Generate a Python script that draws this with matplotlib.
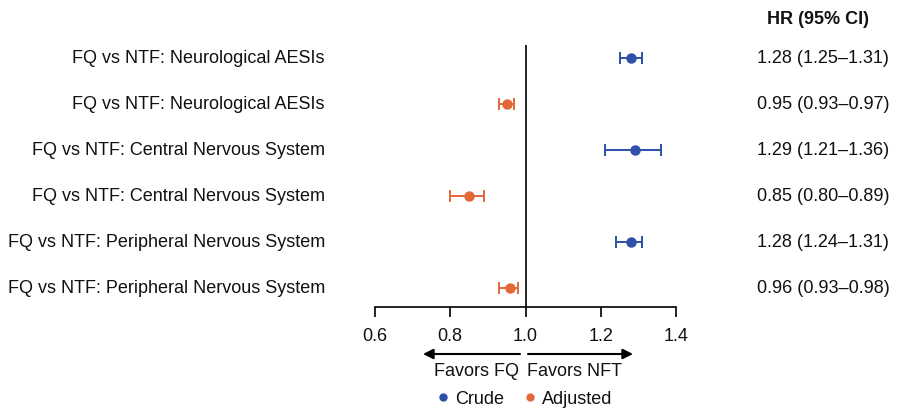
import matplotlib
matplotlib.use("Agg")
import matplotlib.pyplot as plt
from matplotlib.lines import Line2D

plt.rcParams['font.family'] = ['Liberation Sans', 'DejaVu Sans']

labels = ["FQ vs NTF: Neurological AESIs", "FQ vs NTF: Neurological AESIs",
          "FQ vs NTF: Central Nervous System", "FQ vs NTF: Central Nervous System",
          "FQ vs NTF: Peripheral Nervous System", "FQ vs NTF: Peripheral Nervous System"]
hr = [1.28, 0.95, 1.29, 0.85, 1.28, 0.96]
lo = [1.25, 0.93, 1.21, 0.80, 1.24, 0.93]
hi = [1.31, 0.97, 1.36, 0.89, 1.31, 0.98]
model = ["Crude", "Adjusted", "Crude", "Adjusted", "Crude", "Adjusted"]
ci_text = ["1.28 (1.25\u20131.31)", "0.95 (0.93\u20130.97)", "1.29 (1.21\u20131.36)",
           "0.85 (0.80\u20130.89)", "1.28 (1.24\u20131.31)", "0.96 (0.93\u20130.98)"]
xticks = [0.6, 0.8, 1.0, 1.2, 1.4]
colors = {"Crude": "#2F4FA8", "Adjusted": "#E2683A"}

FS = 13
TXT = "#111111"
W, H = 903, 408
fig = plt.figure(figsize=(W / 100, H / 100), dpi=100)
ax = fig.add_axes([375 / W, (H - 307) / H, 301 / W, (307 - 45) / H])
ax.set_xlim(0.6, 1.4)
ax.set_ylim(5.413, -0.283)

for i in range(len(hr)):
    c = colors[model[i]]
    ax.errorbar(hr[i], i, xerr=[[hr[i] - lo[i]], [hi[i] - hr[i]]], fmt='o',
                color=c, ms=6.5, elinewidth=1.4, capsize=4.5, capthick=1.4, clip_on=False)

ax.axvline(1.0, color='black', lw=1.2)
for s in ['left', 'top', 'right']:
    ax.spines[s].set_visible(False)
ax.spines['bottom'].set_linewidth(1.2)
ax.set_yticks([])
ax.set_xticks(xticks)
ax.set_xticklabels([f"{t:.1f}" for t in xticks])
ax.tick_params(axis='x', direction='out', length=7, width=1.2, labelsize=FS, pad=8,
               labelcolor=TXT)

def px2x(px):
    return 0.6 + (px - 375) / 376.25

for i in range(len(labels)):
    ax.text(px2x(325), i, labels[i], ha='right', va='center', fontsize=FS, color=TXT, clip_on=False)
    ax.text(px2x(757), i, ci_text[i], ha='left', va='center', fontsize=FS, color=TXT, clip_on=False)

fig.text(767 / W, 1 - 20 / H, "HR (95% CI)", ha='left', va='center', fontsize=FS,
         fontweight='bold', color=TXT)

# Favors arrows
ya = 1 - 354 / H
ax.annotate("", xy=(423 / W, ya), xytext=(520 / W, ya), xycoords='figure fraction',
            arrowprops=dict(arrowstyle='-|>', color='black', lw=1.5, mutation_scale=15,
                            shrinkA=0, shrinkB=0))
ax.annotate("", xy=(633 / W, ya), xytext=(528 / W, ya), xycoords='figure fraction',
            arrowprops=dict(arrowstyle='-|>', color='black', lw=1.5, mutation_scale=15,
                            shrinkA=0, shrinkB=0))
fig.text(476 / W, 1 - 371 / H, "Favors FQ", ha='center', va='center', fontsize=FS, color=TXT)
fig.text(575 / W, 1 - 371 / H, "Favors NFT", ha='center', va='center', fontsize=FS, color=TXT)

handles = [Line2D([], [], marker='o', ls='none', color=colors[k], ms=5, label=k)
           for k in ["Crude", "Adjusted"]]
leg = fig.legend(handles=handles, loc='center', bbox_to_anchor=(524 / W, 1 - 399 / H), ncol=2,
                 frameon=False, fontsize=FS, handlelength=0.8, handletextpad=0.3,
                 columnspacing=1.0, borderaxespad=0, borderpad=0)
for t in leg.get_texts():
    t.set_color(TXT)

fig.savefig("out.png", dpi=100)
